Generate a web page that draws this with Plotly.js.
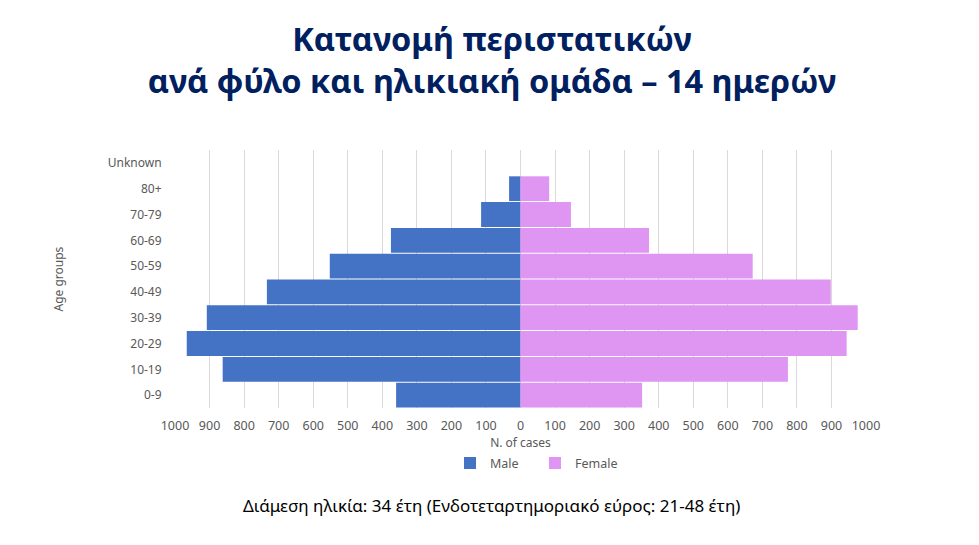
<!DOCTYPE html>
<html>
<head>
<meta charset="utf-8">
<script src="https://cdn.plot.ly/plotly-3.0.1.min.js"></script>
<style>html,body{margin:0;padding:0;background:#fff;}#chart{width:979px;height:545px;}</style>
</head>
<body>
<div id="chart"></div>
<script>
const ageGroups = ["0-9","10-19","20-29","30-39","40-49","50-59","60-69","70-79","80+","Unknown"];
const maleCases = [360, 862, 966, 908, 734, 552, 375, 114, 33, 0];
const femaleCases = [352, 774, 944, 976, 898, 672, 372, 146, 83, 0];
const tickValues = [-1000,-900,-800,-700,-600,-500,-400,-300,-200,-100,0,100,200,300,400,500,600,700,800,900,1000];
const tickLabels = ["1000","900","800","700","600","500","400","300","200","100","0","100","200","300","400","500","600","700","800","900","1000"];

const font = "Noto Sans, Open Sans, sans-serif";
const traces = [
  {type:'bar', orientation:'h', name:'Male', y: ageGroups, x: maleCases.map(v => -v),
   marker:{color:'#4472C4'}, hoverinfo:'y+text', text: maleCases.map(String), textposition:'none'},
  {type:'bar', orientation:'h', name:'Female', y: ageGroups, x: femaleCases,
   marker:{color:'#DF95F2'}, hoverinfo:'y+text', text: femaleCases.map(String), textposition:'none'}
];
const layout = {
  width:979, height:545,
  margin:{l:175, r:113, t:150, b:137},
  paper_bgcolor:'#fff', plot_bgcolor:'#fff',
  barmode:'overlay', bargap:0.04,
  font:{family:font, color:'#595959', size:12},
  title:{text:'Κατανομή περιστατικών<br>ανά φύλο και ηλικιακή ομάδα – 14 ημερών',
         x:0.5026, xanchor:'center', xref:'container', y:0.906, yanchor:'middle', yref:'container',
         font:{family:font, size:32.5, color:'#002060', weight:'bold'}},
  xaxis:{range:[-1000,1000], tickvals:tickValues, ticktext:tickLabels, showgrid:true,
         gridcolor:'#D9D9D9', gridwidth:1, zeroline:false, showline:false,
         ticks:'outside', ticklen:6, tickcolor:'rgba(0,0,0,0)',
         tickfont:{size:12.5, color:'#595959'},
         title:{text:'N. of cases', standoff:0, font:{size:12, color:'#595959'}}, fixedrange:true},
  yaxis:{type:'category', categoryorder:'array', categoryarray:ageGroups, showgrid:false,
         zeroline:false, showline:false, ticks:'outside', ticklen:10, tickcolor:'rgba(0,0,0,0)',
         tickfont:{size:12, color:'#595959'}, fixedrange:true},
  showlegend:true,
  legend:{orientation:'h', x:0.398, xanchor:'left', y:-0.215, yanchor:'middle',
          font:{size:12.5, color:'#595959'}, entrywidth:40, itemwidth:30, traceorder:'normal'},
  annotations:[
    {text:'Age groups', xref:'paper', yref:'paper', x:-0.17, y:0.5, textangle:-90,
     showarrow:false, xanchor:'center', yanchor:'middle', font:{size:12, color:'#595959'}},
    {text:'Διάμεση ηλικία: 34 έτη (Ενδοτεταρτημοριακό εύρος: 21-48 έτη)', xref:'paper', yref:'paper',
     x:(491-175)/691, y:(408-505)/258, showarrow:false, xanchor:'center', yanchor:'middle',
     font:{size:17, color:'#000'}}
  ]
};
Plotly.newPlot('chart', traces, layout, {displayModeBar:false});
</script>
</body>
</html>
